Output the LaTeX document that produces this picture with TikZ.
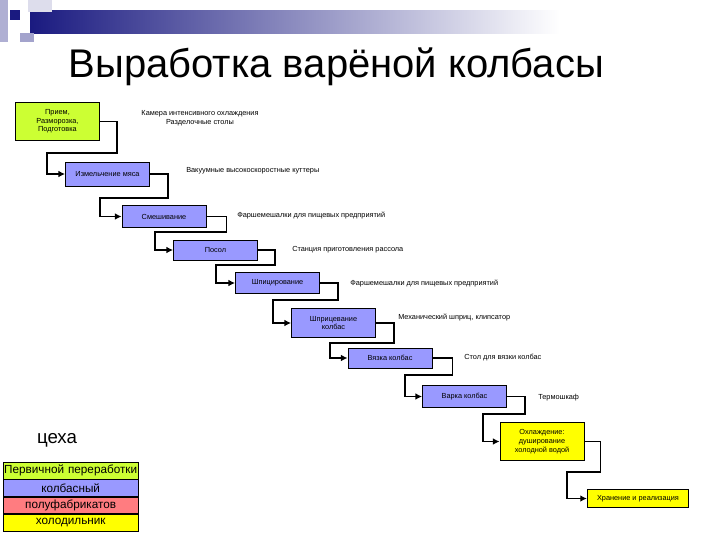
\documentclass[tikz,border=0pt]{standalone}
\usepackage{fontspec}
\setmainfont{Liberation Sans}
\usetikzlibrary{arrows.meta}
\definecolor{bgreen}{HTML}{CCFF33}
\definecolor{bblue}{HTML}{9999FF}
\definecolor{bred}{HTML}{FF7C80}
\definecolor{byellow}{HTML}{FFFF00}
\definecolor{dblue}{HTML}{1A1A80}
\tikzset{
 stage/.style={draw=black, line width=0.6pt, minimum width=#1, inner sep=1pt, align=center, font=\fontsize{5.5}{6.5}\selectfont},
 stage/.default=63pt,
 note/.style={anchor=west, inner sep=0pt, align=center, font=\fontsize{5.5}{6.5}\selectfont},
 flow/.style={line width=1.2pt, -{Latex[length=5pt,width=5pt]}},
 leg/.style={draw=black, line width=0.5pt, text width=101pt, align=center, minimum height=12.5pt, inner sep=0pt, font=\fontsize{8.8}{10}\selectfont}
}
\begin{document}
\begin{tikzpicture}[x=0.75pt,y=-0.75pt]
\useasboundingbox (0,0) rectangle (720,540);
% decoration
\shade[left color=dblue, right color=white] (30,10) rectangle (560,33);
\fill[dblue!15] (28,0) rectangle (52,12);
\fill[dblue!35] (0,0) rectangle (8,42);
\fill[dblue] (10,10) rectangle (20,20);
\fill[dblue!40] (20,33) rectangle (34,42);
\node[font=\fontsize{30}{34}\selectfont, anchor=west] (title) at (64,67) {Выработка варёной колбасы};
% stages
\node[stage, fill=bgreen, minimum height=28pt] (s1) at (57.5,121.5) {Прием,\\Разморозка,\\Подготовка};
\node[stage, fill=bblue, minimum height=18pt] (s2) at (107.5,174) {Измельчение мяса};
\node[stage, fill=bblue, minimum height=16pt] (s3) at (164,216.5) {Смешивание};
\node[stage, fill=bblue, minimum height=15pt] (s4) at (215.5,250) {Посол};
\node[stage, fill=bblue, minimum height=16pt] (s5) at (277.5,283) {Шпицирование};
\node[stage, fill=bblue, minimum height=22pt] (s6) at (333.5,323) {Шприцевание\\колбас};
\node[stage, fill=bblue, minimum height=15pt] (s7) at (390,358) {Вязка колбас};
\node[stage, fill=bblue, minimum height=16pt] (s8) at (464.5,396.5) {Варка колбас};
\node[stage, fill=byellow, minimum height=28pt] (s9) at (542,441.5) {Охлаждение:\\душирование\\холодной водой};
\node[stage=76pt, fill=byellow, minimum height=13pt] (s10) at (638,498.5) {Хранение и реализация};
% connectors
\draw[flow] (s1.east) -- ++(17,0) |- (47,153) |- (s2.west);
\draw[flow] (s2.east) -- ++(18,0) |- (100,198) |- (s3.west);
\draw[flow] (s3.east) -- ++(20,0) |- (155,232) |- (s4.west);
\draw[flow] (s4.east) -- ++(17,0) |- (216,265) |- (s5.west);
\draw[flow] (s5.east) -- ++(18,0) |- (273,300) |- (s6.west);
\draw[flow] (s6.east) -- ++(18,0) |- (330,343) |- (s7.west);
\draw[flow] (s7.east) -- ++(20,0) |- (405,375) |- (s8.west);
\draw[flow] (s8.east) -- ++(18,0) |- (483,414) |- (s9.west);
\draw[flow] (s9.east) -- ++(16,0) |- (567,472) |- (s10.west);
% equipment notes
\node[note, anchor=center] (n1) at (200,118) {Камера интенсивного охлаждения\\Разделочные столы};
\node[note] (n2) at (186,171) {Вакуумные высокоскоростные куттеры};
\node[note] (n3) at (237,216) {Фаршемешалки для пищевых предприятий};
\node[note] (n4) at (292,250) {Станция приготовления рассола};
\node[note] (n5) at (350,284) {Фаршемешалки для пищевых предприятий};
\node[note] (n6) at (398,318) {Механический шприц, клипсатор};
\node[note] (n7) at (464,358) {Стол для вязки колбас};
\node[note] (n8) at (538,398) {Термошкаф};
% legend
\node[font=\fontsize{14}{16}\selectfont] (ceh) at (57,440) {цеха};
\node[leg, fill=bgreen, anchor=north west] (l1) at (3,462) {Первичной переработки};
\node[leg, fill=bblue, anchor=north] (l2) at (l1.south) {колбасный};
\node[leg, fill=bred, anchor=north] (l3) at (l2.south) {полуфабрикатов};
\node[leg, fill=byellow, anchor=north] (l4) at (l3.south) {холодильник};
\end{tikzpicture}
\end{document}
